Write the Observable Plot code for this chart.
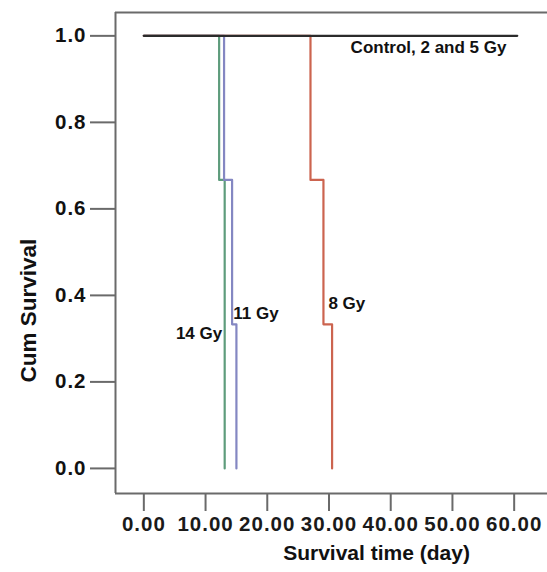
<!DOCTYPE html>
<html>
<head>
<meta charset="utf-8">
<script src="https://cdn.jsdelivr.net/npm/d3@7"></script>
<script src="https://cdn.jsdelivr.net/npm/@observablehq/plot@0.6"></script>
<style>
  html, body { margin: 0; padding: 0; background: #fff; }
  #chart svg { display: block; }
</style>
</head>
<body>
<div id="chart"></div>
<script>
// Kaplan–Meier survival data (days, cumulative survival)
const control = [[0, 1], [60.5, 1]];
const gy8  = [[0, 1], [27.0, 0.667], [29.1, 0.333], [30.5, 0]];
const gy11 = [[0, 1], [13.0, 0.667], [14.3, 0.333], [15.0, 0]];
const gy14 = [[0, 1], [12.2, 0.667], [13.1, 0]];

const xTicks = [0, 10, 20, 30, 40, 50, 60];
const yTicks = [0, 0.2, 0.4, 0.6, 0.8, 1.0];

const seriesNames = ["14 Gy", "11 Gy", "8 Gy", "Control, 2 and 5 Gy"];
const seriesColors = ["#5e9c7c", "#8487c2", "#cc644f", "#2b2b2b"];

// label anchors (data units)
const labelsEnd = [
  {text: "14 Gy", t: 12.7, s: 0.312}
];
const labelsStart = [
  {text: "11 Gy", t: 14.5, s: 0.358},
  {text: "8 Gy", t: 29.9, s: 0.382},
  {text: "Control, 2 and 5 Gy", t: 33.5, s: 0.973}
];

const xDomain = [-4.59, 65.4];
const yDomain = [-0.058, 1.054];

const toRows = (arr, name) => arr.map(([t, s]) => ({t, s, name}));
const rows = [
  ...toRows(gy14, "14 Gy"),
  ...toRows(gy11, "11 Gy"),
  ...toRows(gy8, "8 Gy"),
  ...toRows(control, "Control, 2 and 5 Gy")
];

const axisColor = "#6a6a6a";
const font = "'Liberation Sans', Arial, sans-serif";

const chart = Plot.plot({
  width: 547,
  height: 572,
  marginLeft: 115,
  marginRight: 0,
  marginTop: 12,
  marginBottom: 79,
  style: {fontFamily: font, fontWeight: "bold", color: "#111", background: "#fff"},
  x: {domain: xDomain},
  y: {domain: yDomain},
  color: {domain: seriesNames, range: seriesColors},
  marks: [
    Plot.ruleX([xDomain[0]], {stroke: axisColor, strokeWidth: 2}),
    Plot.ruleY([yDomain[1]], {stroke: axisColor, strokeWidth: 2}),
    Plot.ruleY([yDomain[0]], {stroke: axisColor, strokeWidth: 2}),
    Plot.axisX({
      ticks: xTicks, tickFormat: d3.format(".2f"), tickSize: 18, tickPadding: 5,
      stroke: axisColor, strokeWidth: 2, fontSize: 20.5, label: null,
      fill: "#1a1a1a"
    }),
    Plot.axisY({
      ticks: yTicks, tickFormat: d3.format(".1f"), tickSize: 25, tickPadding: 4,
      stroke: axisColor, strokeWidth: 2, fontSize: 20.5, label: null,
      fill: "#111"
    }),
    Plot.line(rows, {x: "t", y: "s", z: "name", stroke: "name", curve: "step-after", strokeWidth: 2.2}),
    Plot.text(labelsEnd, {x: "t", y: "s", text: "text", textAnchor: "end", fontSize: 17, fontWeight: "bold", fill: "#111"}),
    Plot.text(labelsStart, {x: "t", y: "s", text: "text", textAnchor: "start", fontSize: 17, fontWeight: "bold", fill: "#111"}),
    Plot.text(["Cum Survival"], {x: () => xDomain[0], y: () => 0.365, dx: -87, rotate: -90, fontSize: 22.5, fontWeight: "bold", fill: "#111"}),
    Plot.text(["Survival time (day)"], {frameAnchor: "bottom", dx: 45, dy: 66, fontSize: 21, fontWeight: "bold", fill: "#111"})
  ]
});

chart.querySelectorAll("g[aria-label='x-axis tick label'] text, g[aria-label='y-axis tick label'] text").forEach(t => t.setAttribute("letter-spacing", "1"));

document.getElementById("chart").appendChild(chart);
</script>
</body>
</html>
